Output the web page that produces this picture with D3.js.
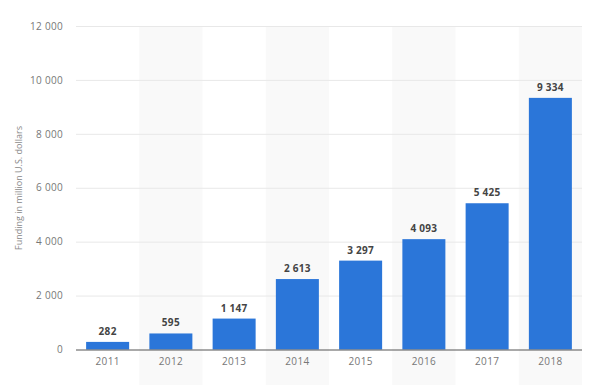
<!DOCTYPE html>
<meta charset="utf-8">
<title>Funding by year</title>
<style>
body { margin: 0; background: #fff; }
text { font-family: "Open Sans", "DejaVu Sans", sans-serif; }
.grid line { stroke: #e8e8e8; }
.axis text { fill: #777; font-size: 10px; letter-spacing: 0.3px; }
.value { fill: #444; font-size: 10px; font-weight: bold; letter-spacing: 0.3px; }
</style>
<body>
<script src="https://d3js.org/d3.v7.min.js"></script>
<script>

// data
var years = ["2011", "2012", "2013", "2014", "2015", "2016", "2017", "2018"];
var funding = [282, 595, 1147, 2613, 3297, 4093, 5425, 9334];
var yTicks = [0, 2000, 4000, 6000, 8000, 10000, 12000];

var width = 600, height = 385;
var margin = {top: 26, right: 18, bottom: 35.5, left: 76};

var svg = d3.select("body").append("svg")
    .attr("width", width)
    .attr("height", height);

var x = d3.scaleBand()
    .domain(years)
    .range([margin.left, width - margin.right])
    .paddingInner(0.32)
    .paddingOuter(0.16);

var y = d3.scaleLinear()
    .domain([0, 12000])
    .range([height - margin.bottom, margin.top]);

// number format with space as thousands separator
var fmt = function(d) { return d3.format(",")(d).replace(/,/g, " "); };

// alternating background bands
var step = x.step();
svg.append("g").selectAll("rect")
    .data(years.filter(function(d, i) { return i % 2 === 1; }))
    .enter().append("rect")
    .attr("x", function(d) { return x(d) - step * 0.16; })
    .attr("y", margin.top)
    .attr("width", step)
    .attr("height", height - margin.top)
    .attr("fill", "#f9f9f9");

// grid lines
svg.append("g")
    .attr("class", "grid")
    .selectAll("line")
    .data(yTicks.slice(1))
    .enter().append("line")
    .attr("x1", margin.left)
    .attr("x2", width - margin.right)
    .attr("y1", function(d) { return y(d) + 0.5; })
    .attr("y2", function(d) { return y(d) + 0.5; });

// y axis labels
var yAxis = svg.append("g")
    .attr("class", "axis")
    .attr("transform", "translate(" + (margin.left - 13) + ",0)")
    .call(d3.axisLeft(y).tickValues(yTicks).tickFormat(fmt).tickSize(0).tickPadding(0));
yAxis.select(".domain").remove();

// bars
svg.append("g").selectAll("rect")
    .data(funding)
    .enter().append("rect")
    .attr("x", function(d, i) { return x(years[i]); })
    .attr("y", function(d) { return y(d); })
    .attr("width", x.bandwidth())
    .attr("height", function(d) { return y(0) - y(d); })
    .attr("fill", "#2b76d9");

// value labels
svg.append("g").selectAll("text")
    .data(funding)
    .enter().append("text")
    .attr("class", "value")
    .attr("x", function(d, i) { return x(years[i]) + x.bandwidth() / 2; })
    .attr("y", function(d) { return y(d) - 7; })
    .attr("text-anchor", "middle")
    .text(fmt);

// baseline
svg.append("line")
    .attr("x1", margin.left)
    .attr("x2", width - margin.right)
    .attr("y1", y(0) + 0.5)
    .attr("y2", y(0) + 0.5)
    .attr("stroke", "#555");

// x axis labels
var xAxis = svg.append("g")
    .attr("class", "axis")
    .attr("transform", "translate(0," + (y(0) + 8) + ")")
    .call(d3.axisBottom(x).tickSize(0).tickPadding(0));
xAxis.select(".domain").remove();

// y axis title
svg.append("text")
    .attr("transform", "translate(22," + 188 + ") rotate(-90)")
    .attr("text-anchor", "middle")
    .attr("fill", "#888")
    .attr("font-size", "9px")
    .text("Funding in million U.S. dollars");

</script>
</body>
